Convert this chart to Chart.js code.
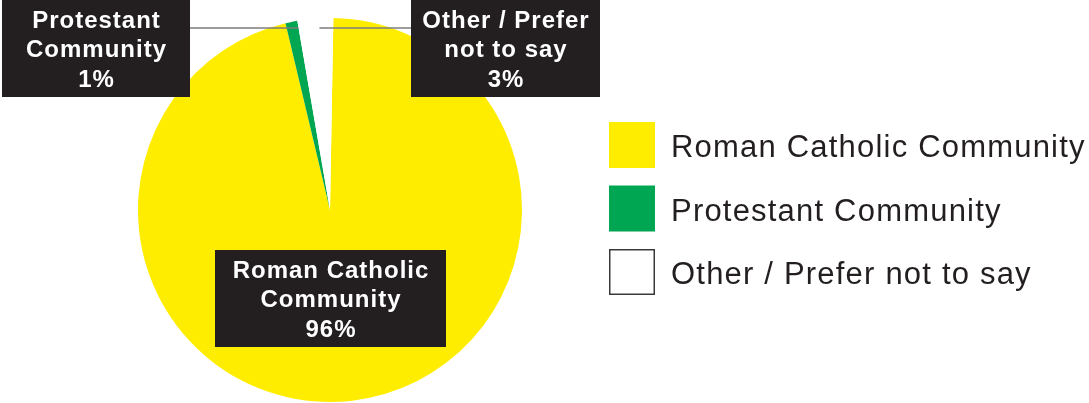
<!DOCTYPE html>
<html>
<head>
<meta charset="utf-8">
<script src="https://cdn.jsdelivr.net/npm/chart.js@4/dist/chart.umd.min.js"></script>
<style>
  html, body { margin: 0; padding: 0; background: #fff; }
  #wrap { width: 1089px; height: 403px; }
</style>
</head>
<body>
<div id="wrap"><canvas id="religionChart" width="1089" height="403"></canvas></div>
<script>
// ---- data ----
const categories = ['Roman Catholic Community', 'Protestant Community', 'Other / Prefer not to say'];
const shares = [96, 1, 3];
const sliceColors = ['#FFED00', '#00A651', '#FFFFFF'];
const calloutLines = [
    ['Roman Catholic', 'Community'],
    ['Protestant', 'Community'],
    ['Other / Prefer', 'not to say']
];

const inkColor = '#231F20';
const boxColor = '#231F20';
const leaderColor = '#7d7d7d';

// callout boxes (x, y, w, h) and where their leader lines meet the slice
const calloutBoxes = [
    { x: 215, y: 250, w: 231, h: 97, leader: null },
    { x: 2, y: 0, w: 188, h: 97, leader: { y: 28, side: 'right', frac: 1 } },
    { x: 411, y: 0, w: 189, h: 97, leader: { y: 28, side: 'left', frac: 0.6 } }
];

// black callout boxes with white text + grey leader lines
const calloutPlugin = {
    id: 'callouts',
    afterDraw(chart) {
        const ctx = chart.ctx;
        const arcs = chart.getDatasetMeta(0).data;
        ctx.save();

        calloutBoxes.forEach((box, i) => {
            if (!box.leader) return;
            const arc = arcs[i];
            const a = arc.startAngle + (arc.endAngle - arc.startAngle) * box.leader.frac;
            const t = (box.leader.y - arc.y) / Math.sin(a);
            const px = arc.x + t * Math.cos(a);
            const bx = box.leader.side === 'right' ? box.x + box.w : box.x;
            ctx.strokeStyle = leaderColor;
            ctx.lineWidth = 1.5;
            ctx.beginPath();
            ctx.moveTo(bx, box.leader.y);
            ctx.lineTo(px, box.leader.y);
            ctx.stroke();
        });

        calloutBoxes.forEach((box, i) => {
            ctx.fillStyle = boxColor;
            ctx.fillRect(box.x, box.y, box.w, box.h);
            const lines = calloutLines[i].concat([shares[i] + '%']);
            ctx.fillStyle = '#ffffff';
            ctx.font = 'bold 24px "Liberation Sans", Arial, sans-serif';
            ctx.textAlign = 'center';
            ctx.textBaseline = 'alphabetic';
            if ('letterSpacing' in ctx) ctx.letterSpacing = '1px';
            const cx = box.x + box.w / 2;
            const cy = box.y + box.h / 2;
            const step = 29.5;
            lines.forEach((line, k) => {
                const baseline = cy + (k - 1) * step + 8.6;
                ctx.fillText(line, cx + 0.5, baseline);
            });
        });
        ctx.restore();
    }
};

// legend at the right: square swatches with labels
const sideLegendPlugin = {
    id: 'sideLegend',
    afterDraw(chart) {
        const ctx = chart.ctx;
        const x0 = 609, y0 = 122, size = 46, gap = 63.5;
        ctx.save();
        ctx.font = '31px "Liberation Sans", Arial, sans-serif';
        ctx.textBaseline = 'alphabetic';
        ctx.textAlign = 'left';
        if ('letterSpacing' in ctx) ctx.letterSpacing = '1.2px';
        categories.forEach((name, i) => {
            const y = y0 + i * gap;
            ctx.fillStyle = sliceColors[i];
            ctx.fillRect(x0, y, size, size);
            if (sliceColors[i] === '#FFFFFF') {
                ctx.strokeStyle = '#3a3a3a';
                ctx.lineWidth = 1.5;
                ctx.strokeRect(x0 + 0.75, y + 0.75, size - 1.5, size - 1.5);
            }
            ctx.fillStyle = inkColor;
            ctx.fillText(name, 671, y + 35);
        });
        ctx.restore();
    }
};

new Chart(document.getElementById('religionChart'), {
    type: 'pie',
    data: {
        labels: categories,
        datasets: [{
            data: shares,
            backgroundColor: sliceColors,
            borderWidth: 0
        }]
    },
    options: {
        responsive: false,
        animation: false,
        rotation: 1,
        layout: { padding: { top: 18, bottom: 1, left: 0, right: 429 } },
        plugins: {
            legend: { display: false },
            tooltip: { enabled: false }
        }
    },
    plugins: [calloutPlugin, sideLegendPlugin]
});
</script>
</body>
</html>
